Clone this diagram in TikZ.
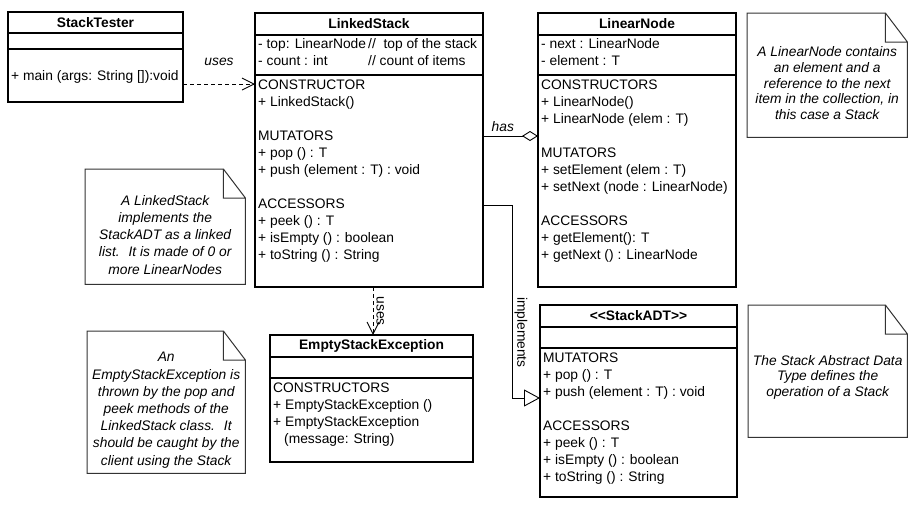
\documentclass[tikz,border=0pt]{standalone}
\usepackage{fontspec}
\setmainfont{Liberation Sans}
\usetikzlibrary{positioning, arrows.meta}

\begin{document}
\begin{tikzpicture}[x=1pt, y=-1pt, font=\fontsize{13.8}{17}\selectfont,
        box/.style={draw, line width=1.6pt, rectangle, anchor=north west, outer sep=0pt, inner sep=0pt},
        classname/.style={box, minimum height=22pt, font=\fontsize{13.8}{17}\selectfont\bfseries},
        members/.style={anchor=north west, align=left, inner xsep=3pt, inner ysep=5pt, execute at begin node=\strut},
        note/.style={anchor=north west, inner sep=0pt},
        notetext/.style={align=center, font=\fontsize{13.8}{17.2}\selectfont\itshape},
        rolelabel/.style={font=\fontsize{13.8}{17}\selectfont\itshape},
        uses/.style={line width=0.9pt, dash pattern=on 4pt off 3pt, -{Straight Barb[length=12pt, width=12pt]}},
        has/.style={line width=0.9pt, -{Diamond[open, length=16pt, width=10pt]}},
        realize/.style={line width=0.9pt, -{Triangle[open, length=16pt, width=17pt]}}]
        \useasboundingbox (0,0) rectangle (917,507);
        \fill[white] (0,0) rectangle (917,507);

        % classes
        \node (st) [classname, minimum width=175pt, minimum height=21pt] at (8,12) {StackTester};
        \node (stA) [box, minimum width=175pt, minimum height=16pt, below=0pt of st] {};
        \node (stM) [box, minimum width=175pt, minimum height=53pt, below=0pt of stA] {};
        \node (stMt) [members, yshift=-14pt] at (stM.north west) {+ main (args: String []):void};

        \node (ls) [classname, minimum width=228pt] at (255,13) {LinkedStack};
        \node (lsA) [box, minimum width=228pt, minimum height=40pt, below=0pt of ls] {};
        \node (lsM) [box, minimum width=228pt, minimum height=212pt, below=0pt of lsA] {};
        \node (lsAt) [members, inner ysep=3pt] at (lsA.north west)
            {\makebox[110pt][l]{- top: LinearNode }//~~top of the stack\\\makebox[110pt][l]{- count : int}// count of items};
        \node (lsMt) [members] at (lsM.north west)
            {CONSTRUCTOR\\+ LinkedStack()\\[17pt]MUTATORS\\+ pop () : T\\+ push (element : T) : void\\[17pt]ACCESSORS\\+ peek () : T\\+ isEmpty () : boolean\\+ toString () : String};

        \node (ln) [classname, minimum width=198pt] at (538,13) {LinearNode};
        \node (lnA) [box, minimum width=198pt, minimum height=40pt, below=0pt of ln] {};
        \node (lnM) [box, minimum width=198pt, minimum height=212pt, below=0pt of lnA] {};
        \node (lnAt) [members, inner ysep=3pt] at (lnA.north west) {- next : LinearNode\\- element : T};
        \node (lnMt) [members] at (lnM.north west)
            {CONSTRUCTORS\\+ LinearNode()\\+ LinearNode (elem : T)\\[17pt]MUTATORS\\+ setElement (elem : T)\\+ setNext (node : LinearNode)\\[17pt]ACCESSORS\\+ getElement(): T\\+ getNext () : LinearNode};

        \node (ad) [classname, minimum width=197pt] at (540,305) {<{}<StackADT>{}>};
        \node (adA) [box, minimum width=197pt, minimum height=21pt, below=0pt of ad] {};
        \node (adM) [box, minimum width=197pt, minimum height=149pt, below=0pt of adA] {};
        \node (adMt) [members] at (adM.north west)
            {MUTATORS\\+ pop () : T\\+ push (element : T) : void\\[17pt]ACCESSORS\\+ peek () : T\\+ isEmpty () : boolean\\+ toString () : String};

        \node (ex) [classname, minimum width=203pt] at (270,335) {EmptyStackException};
        \node (exA) [box, minimum width=203pt, minimum height=21pt, below=0pt of ex] {};
        \node (exM) [box, minimum width=203pt, minimum height=84pt, below=0pt of exA] {};
        \node (exMt) [members] at (exM.north west)
            {CONSTRUCTORS\\+ EmptyStackException ()\\+ EmptyStackException\\\hspace*{11pt}(message: String)};

        % notes
        \node (n1) [note, minimum width=160pt, minimum height=124pt] at (747,13) {};
        \node (n2) [note, minimum width=160pt, minimum height=115pt] at (85,169) {};
        \node (n3) [note, minimum width=158pt, minimum height=142pt] at (87,331) {};
        \node (n4) [note, minimum width=159pt, minimum height=132pt] at (748,305) {};
        \foreach \n in {n1, n2, n3, n4}
            \draw[line width=1pt, black!80] (\n.north west) -- ([xshift=-22pt]\n.north east) -- ([yshift=-29pt]\n.north east)
                -- (\n.south east) -- (\n.south west) -- cycle
                ([xshift=-22pt]\n.north east) |- ([yshift=-29pt]\n.north east);
        \node (n1t) [notetext, font=\fontsize{13.8}{15.6}\selectfont\itshape] at ([yshift=-8pt]n1.center)
            {A LinearNode contains\\an element and a\\reference to the next\\item in the collection, in\\this case a Stack};
        \node (n2t) [notetext] at ([yshift=-8pt]n2.center)
            {A LinkedStack\\implements the\\StackADT as a linked\\list.~ It is made of 0 or\\more LinearNodes};
        \node (n3t) [notetext] at ([yshift=-8pt]n3.center)
            {An\\EmptyStackException is\\thrown by the pop and\\peek methods of the\\LinkedStack class.~ It\\should be caught by the\\client using the Stack};
        \node (n4t) [notetext, font=\fontsize{13.8}{15.6}\selectfont\itshape] at ([yshift=-6pt]n4.center)
            {The Stack Abstract Data\\Type defines the\\operation of a Stack};

        % relations
        \draw[uses] ([yshift=-8.5pt]stM.east) -- ([yshift=-8.5pt]stM.east -| lsM.west)
            node[midway, above=15pt, rolelabel] {uses};
        \draw[has] ([yshift=45pt]lsM.east) -- ([yshift=45pt]lsM.east -| lnM.west)
            node[pos=.36, above=1pt, rolelabel] {has};
        \draw[realize] ([yshift=-24pt]lsM.east) -- ++(29pt,0)
            |- node[pos=.33, rotate=-90, anchor=south, inner sep=2pt] {implements} ([yshift=24.5pt]adM.west);
        \draw[uses] ([xshift=1.5pt]lsM.south -| ex.north) -- ([xshift=1.5pt]ex.north)
            node[midway, rotate=-90, anchor=south, inner sep=3pt] {uses};
    \end{tikzpicture}
\end{document}
